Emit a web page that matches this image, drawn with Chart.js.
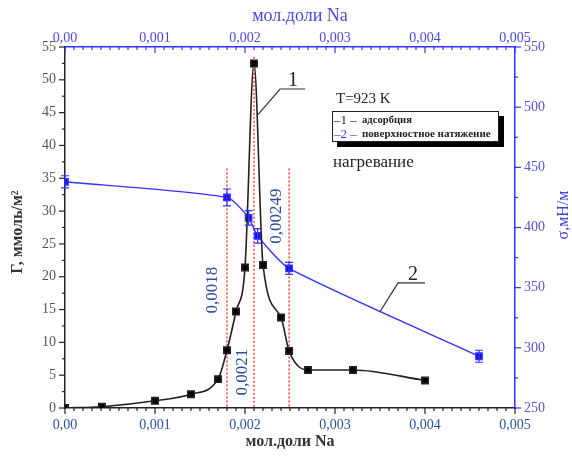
<!DOCTYPE html>
<html>
<head>
<meta charset="utf-8">
<script src="https://cdn.jsdelivr.net/npm/chart.js@4.4.1/dist/chart.umd.min.js"></script>
<style>
  html,body{margin:0;padding:0;background:#fff;}
  #wrap{width:572px;height:459px;}
</style>
</head>
<body>
<div id="wrap"><canvas id="c" width="572" height="459"></canvas></div>
<script>
/* адсорбция и поверхностное натяжение, T=923 K */
const xAds = [0, 0.00041, 0.001, 0.0014, 0.0017, 0.0018, 0.0019, 0.002, 0.0021, 0.0022, 0.0024, 0.00249, 0.0027, 0.0032, 0.004];
const yAds = [0, 0.2, 1.1, 2.1, 4.4, 8.8, 14.7, 21.4, 52.5, 21.8, 13.8, 8.7, 5.8, 5.8, 4.2];
const xSig = [0, 0.0018, 0.00204, 0.00214, 0.00249, 0.0046];
const ySig = [438, 425, 408, 393, 366, 293];
const errSig = [5, 7, 6, 6, 5, 5];
const vLines = [0.0018, 0.0021, 0.00249];
const vLineTop = [36.5, 53.5, 36.5];
const vLabels = ['0,0018', '0,0021', '0,00249'];

const SERIF = '"Liberation Serif", "DejaVu Serif", serif';
const BLUE = '#3333ff';
const fmtX = v => v === 0 ? '0,00' : v.toFixed(3).replace('.', ',');

const extras = {
  id:'extras',
  beforeDatasetsDraw(chart){
    const {ctx, chartArea:ca, scales:{x, x2, y, y2}} = chart;
    ctx.save();
    // tick marks by hand: top axis inward, the rest outward, majors longer
    ctx.lineWidth = 1.2;
    const tick = (sc, color, fn)=>{
      ctx.strokeStyle = color;
      sc.ticks.forEach(t=>{
        const len = t.label !== '' ? 6 : 3;
        const p = sc.getPixelForValue(t.value);
        ctx.beginPath(); fn(p, len); ctx.stroke();
      });
    };
    tick(x, '#222', (p,l)=>{ ctx.moveTo(p, ca.bottom); ctx.lineTo(p, ca.bottom + l); });
    tick(x2, BLUE, (p,l)=>{ ctx.moveTo(p, ca.top); ctx.lineTo(p, ca.top + l); });
    tick(y, '#222', (p,l)=>{ ctx.moveTo(ca.left, p); ctx.lineTo(ca.left - l, p); });
    tick(y2, BLUE, (p,l)=>{ ctx.moveTo(ca.right, p); ctx.lineTo(ca.right + l, p); });

    ctx.strokeStyle = '#ff2020'; ctx.lineWidth = 1.3; ctx.setLineDash([2,2]);
    vLines.forEach((v,i)=>{
      const px = x.getPixelForValue(v);
      ctx.beginPath(); ctx.moveTo(px, y.getPixelForValue(vLineTop[i])); ctx.lineTo(px, y.getPixelForValue(0)); ctx.stroke();
    });
    ctx.restore();
  },
  afterDatasetsDraw(chart){
    const {ctx, scales:{x, y, y2}} = chart;
    ctx.save();
    // error bars
    ctx.strokeStyle = BLUE; ctx.lineWidth = 1.2;
    xSig.forEach((v,i)=>{
      const px = x.getPixelForValue(v);
      const a = y2.getPixelForValue(ySig[i]+errSig[i]), b = y2.getPixelForValue(ySig[i]-errSig[i]);
      ctx.beginPath();
      ctx.moveTo(px,a); ctx.lineTo(px,b);
      ctx.moveTo(px-4,a); ctx.lineTo(px+4,a);
      ctx.moveTo(px-4,b); ctx.lineTo(px+4,b);
      ctx.stroke();
    });
    // leaders
    ctx.strokeStyle = '#333'; ctx.lineWidth = 1.2;
    ctx.beginPath();
    ctx.moveTo(x.getPixelForValue(0.002144), y.getPixelForValue(44.7));
    ctx.lineTo(x.getPixelForValue(0.002389), y.getPixelForValue(48.6));
    ctx.lineTo(x.getPixelForValue(0.002667), y.getPixelForValue(48.6));
    ctx.stroke();
    ctx.beginPath();
    ctx.moveTo(x.getPixelForValue(0.0035), y2.getPixelForValue(330));
    ctx.lineTo(x.getPixelForValue(0.0037), y2.getPixelForValue(354));
    ctx.lineTo(x.getPixelForValue(0.004), y2.getPixelForValue(354));
    ctx.stroke();
    ctx.fillStyle = '#222';
    ctx.font = '20px ' + SERIF; ctx.textAlign = 'center'; ctx.textBaseline = 'alphabetic';
    ctx.fillText('1', 293, 86);
    ctx.fillText('2', 413, 280);
    // rotated labels
    ctx.fillStyle = '#2d4f9e';
    ctx.font = '17px ' + SERIF; ctx.textBaseline = 'middle';
    [[213,290],[243,372],[277,216]].forEach((p,i)=>{
      ctx.save(); ctx.translate(p[0],p[1]); ctx.rotate(-Math.PI/2);
      ctx.fillText(vLabels[i],0,0); ctx.restore();
    });
    // text block
    ctx.fillStyle = '#222'; ctx.textAlign = 'left'; ctx.textBaseline = 'alphabetic';
    ctx.font = '15px ' + SERIF; ctx.fillText('T=923 K', 336, 103);
    ctx.fillStyle = '#000'; ctx.fillRect(337, 116, 167, 31);
    ctx.fillStyle = '#fff'; ctx.fillRect(332, 111, 167, 31);
    ctx.strokeStyle = '#222'; ctx.lineWidth = 1; ctx.strokeRect(332.5, 111.5, 166, 30);
    ctx.font = '13px ' + SERIF;
    ctx.fillStyle = '#222'; ctx.fillText('\u20131 \u2013', 334, 124);
    ctx.fillStyle = BLUE; ctx.fillText('\u20132 \u2013', 334, 138);
    ctx.fillStyle = '#222';
    ctx.font = 'bold 11px ' + SERIF;
    ctx.fillText('адсорбция', 362, 123, 50);
    ctx.fillText('поверхностное натяжение', 362, 137, 134);
    ctx.font = '17px ' + SERIF; ctx.fillText('нагревание', 333, 167);
    // axis titles
    ctx.textAlign = 'center';
    ctx.font = 'bold 16px ' + SERIF; ctx.fillStyle = '#333'; ctx.fillText('мол.доли Na', 290, 446);
    ctx.font = '18px ' + SERIF; ctx.fillStyle = '#4a4ae0'; ctx.fillText('мол.доли Na', 300, 21);
    ctx.textBaseline = 'middle';
    ctx.font = 'bold 16px ' + SERIF;
    ctx.save(); ctx.translate(18, 232); ctx.rotate(-Math.PI/2);
    ctx.fillStyle = '#333'; ctx.fillText('Г, ммоль/м\u00b2', 0, 0); ctx.restore();
    ctx.font = '16px ' + SERIF;
    ctx.save(); ctx.translate(564, 215); ctx.rotate(-Math.PI/2);
    ctx.fillStyle = '#4040e0'; ctx.fillText('σ,мН/м', 0, 0); ctx.restore();
    ctx.restore();
  }
};

function fit(size){ return s => { if(s.isHorizontal()) s.height = size; else s.width = size; }; }
const gridOff = {drawOnChartArea:false, drawTicks:false};

new Chart(document.getElementById('c').getContext('2d'), {
  type:'line',
  data:{datasets:[
    {label:'1 - адсорбция', data:xAds.map((v,i)=>({x:v, y:yAds[i]})), yAxisID:'y', xAxisID:'x',
     borderColor:'#222', borderWidth:1.6, backgroundColor:'#000', pointStyle:'rect', pointRadius:4.5,
     cubicInterpolationMode:'monotone'},
    {label:'2 - поверхностное натяжение', data:xSig.map((v,i)=>({x:v, y:ySig[i]})), yAxisID:'y2', xAxisID:'x',
     borderColor:BLUE, borderWidth:1.4, backgroundColor:'#1010ff', pointStyle:'rect', pointRadius:4.5,
     tension:0.2}
  ]},
  plugins:[extras],
  options:{
    responsive:false, animation:false, layout:{padding:0},
    plugins:{legend:{display:false}, tooltip:{enabled:false}},
    scales:{
      x:{type:'linear', position:'bottom', min:0, max:0.005, afterFit:fit(51),
         border:{color:'#222', width:1.5}, grid:gridOff,
         ticks:{stepSize:0.0001, maxTicksLimit:100, autoSkip:false, maxRotation:0, padding:9,
                color:'#2d4f9e', font:{family:SERIF, size:14},
                callback:v=> Math.round(v*10000)%10===0 ? fmtX(v) : ''}},
      x2:{type:'linear', position:'top', min:0, max:0.005, afterFit:fit(47),
         border:{color:BLUE, width:1.5}, grid:gridOff,
         ticks:{stepSize:0.0001, maxTicksLimit:100, autoSkip:false, maxRotation:0, padding:0,
                color:'#4a4ae0', font:{family:SERIF, size:14},
                callback:v=> Math.round(v*10000)%10===0 ? fmtX(v) : ''}},
      y:{type:'linear', position:'left', min:0, max:55, afterFit:fit(65),
         border:{color:'#222', width:1.5}, grid:gridOff,
         ticks:{stepSize:2.5, autoSkip:false, padding:9, color:'#555', font:{family:SERIF, size:14},
                callback:v=> Math.round(v*2)%10===0 ? String(v) : ''}},
      y2:{type:'linear', position:'right', min:250, max:550, afterFit:fit(57),
         border:{color:BLUE, width:1.5}, grid:gridOff,
         ticks:{stepSize:25, autoSkip:false, padding:9, color:'#5555cc', font:{family:SERIF, size:14},
                callback:v=> v%50===0 ? String(v) : ''}}
    }
  }
});
</script>
</body>
</html>
